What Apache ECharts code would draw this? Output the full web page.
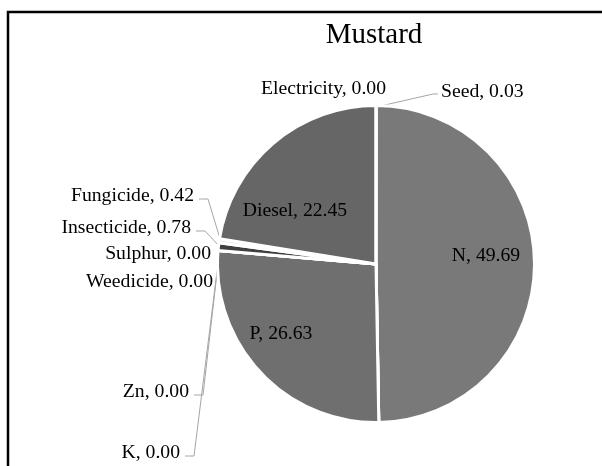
<!DOCTYPE html>
<html>
<head>
<meta charset="utf-8">
<script src="https://cdn.jsdelivr.net/npm/echarts@6/dist/echarts.min.js"></script>
<style>
  html, body { margin: 0; padding: 0; background: #fff; }
  #chart { width: 602px; height: 466px; }
</style>
</head>
<body>
<div id="chart"></div>
<script>
// slices, clockwise from 12 o'clock
const names = ['Seed', 'N', 'K', 'Zn', 'P', 'Weedicide', 'Sulphur', 'Insecticide', 'Fungicide', 'Diesel', 'Electricity'];
const values = [0.03, 49.69, 0.00, 0.00, 26.63, 0.00, 0.00, 0.78, 0.42, 22.45, 0.00];
const colors = ['#bfbfbf', '#797979', '#8c8c8c', '#9a9a9a', '#6f6f6f', '#a0a0a0', '#4d4d4d', '#3f3f3f', '#e6e6e6', '#666666', '#cccccc'];

const FONT = "'Times New Roman', 'Liberation Serif', serif";
const CX = 376, CY = 264, R = 157;

// label spots [x, y, align], laid out like the excel original
const labelSpots = {
  Seed: [441, 92, 'left'],
  Electricity: [386, 89, 'right'],
  Fungicide: [194, 196, 'right'],
  Insecticide: [191, 228, 'right'],
  Sulphur: [211, 254, 'right'],
  Weedicide: [213, 282, 'right'],
  Zn: [189, 392, 'right'],
  K: [180, 453, 'right'],
  Diesel: [295, 211, 'center'],
  N: [486, 256, 'center'],
  P: [281, 334, 'center']
};
const noLine = ['Sulphur', 'Weedicide', 'Electricity', 'N', 'P', 'Diesel'];
// K and Zn leaders run up to the weedicide gap, same as the original
const lineTarget = { K: 'Weedicide', Zn: 'Weedicide' };

const total = values.reduce((a, b) => a + b, 0);

// point on the rim at the middle of slice i
function edgeAt(i) {
  let before = 0;
  for (let k = 0; k < i; k++) before += values[k];
  const ang = (before + values[i] / 2) / total * 2 * Math.PI;
  return [CX + R * Math.sin(ang), CY - R * Math.cos(ang)];
}

const chart = echarts.init(document.getElementById('chart'));

const option = {
  backgroundColor: '#fff',
  animation: false,
  title: {
    text: 'Mustard',
    left: 374,
    top: 21,
    padding: 0,
    textAlign: 'center',
    textStyle: { fontFamily: FONT, fontSize: 29, fontWeight: 'normal', color: '#000' }
  },
  graphic: [{
    type: 'rect',
    silent: true,
    shape: { x: 8, y: 12, width: 700, height: 600 },
    style: { fill: 'none', stroke: '#000', lineWidth: 2.5 }
  }],
  series: [{
    type: 'pie',
    silent: true,
    center: [CX, CY],
    radius: R + 1.5,
    startAngle: 90,
    clockwise: true,
    avoidLabelOverlap: false,
    itemStyle: { borderColor: '#fff', borderWidth: 3 },
    label: {
      show: true,
      position: 'outside',
      fontFamily: FONT,
      fontSize: 19.7,
      color: '#000',
      formatter: p => p.name + ', ' + p.value.toFixed(2)
    },
    labelLine: {
      show: true,
      lineStyle: { color: '#a6a6a6', width: 1 }
    },
    labelLayout: function (p) {
      const name = names[p.dataIndex];
      const s = labelSpots[name];
      const out = { x: s[0], y: s[1], align: s[2], verticalAlign: 'middle' };
      if (noLine.indexOf(name) < 0) {
        const a = edgeAt(names.indexOf(lineTarget[name] || name));
        if (s[2] === 'right') {
          out.labelLinePoints = [a, [s[0] + 14, s[1] + 3], [s[0] + 5, s[1] + 3]];
        } else {
          out.labelLinePoints = [a, [s[0] - 8, s[1] + 2], [s[0] - 3, s[1] + 2]];
        }
      }
      return out;
    },
    data: names.map((n, i) => ({
      name: n,
      value: values[i],
      itemStyle: { color: colors[i] },
      labelLine: { show: noLine.indexOf(n) < 0 }
    }))
  }]
};

chart.setOption(option);
</script>
</body>
</html>
